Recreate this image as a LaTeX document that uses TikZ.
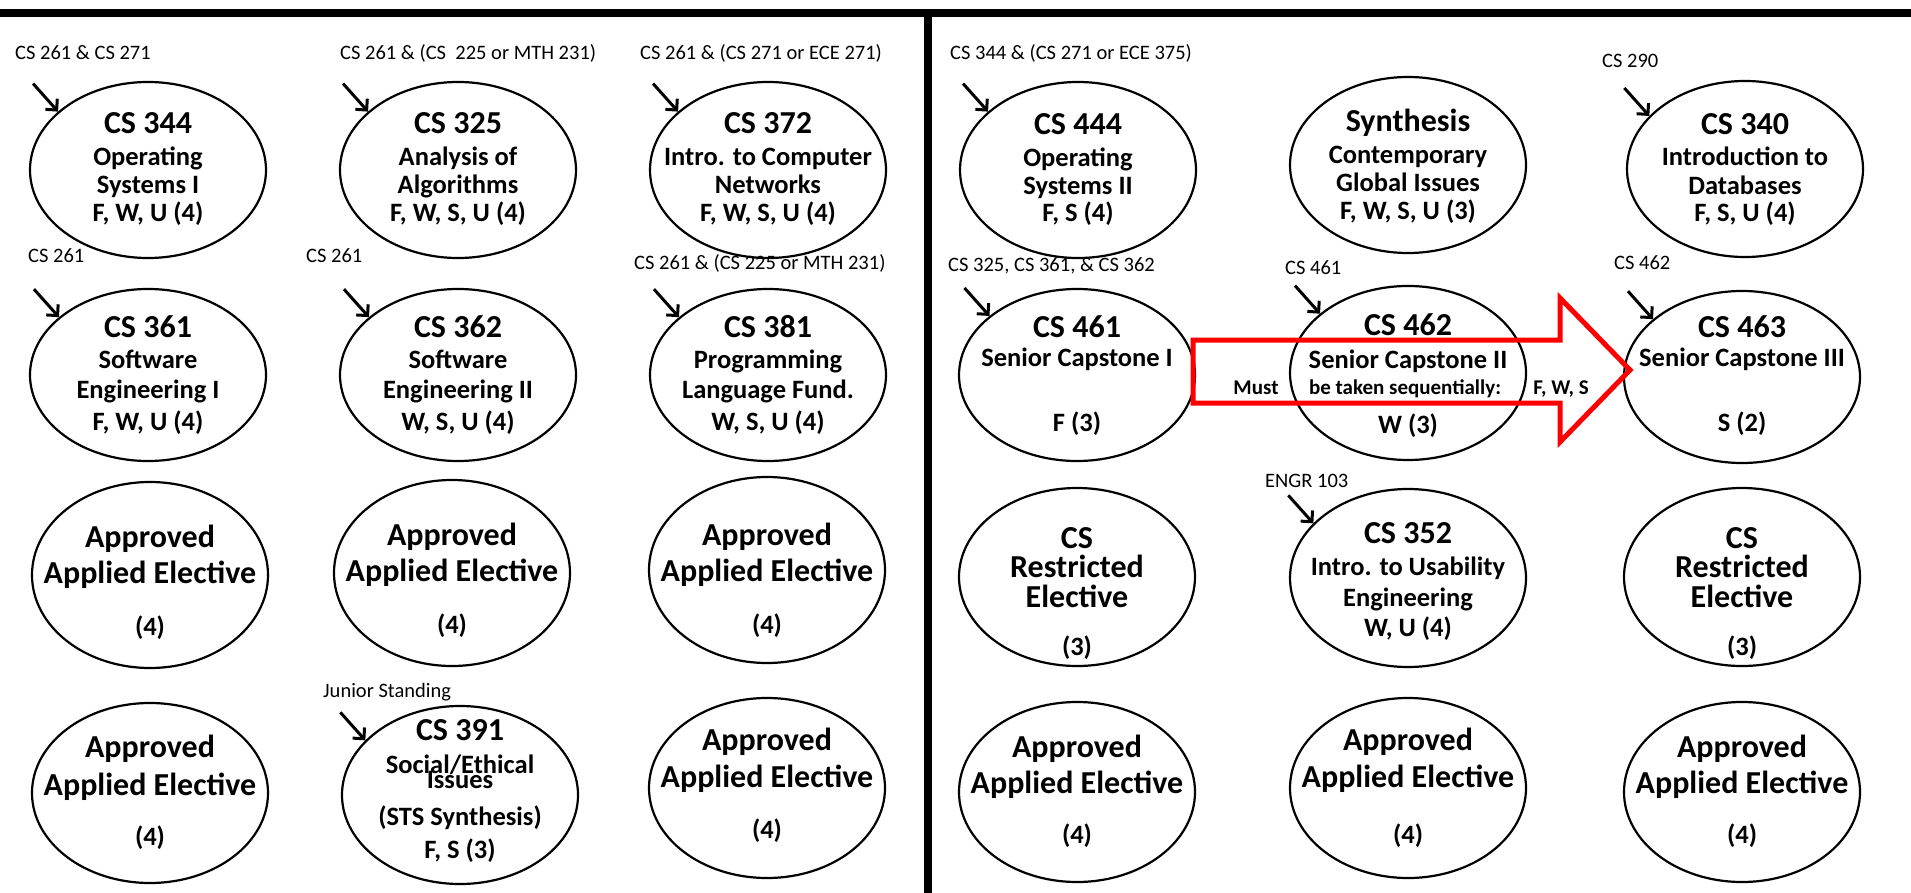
\documentclass[tikz,border=0pt]{standalone}
\usepackage{fontspec}
\setmainfont{Carlito}
\usetikzlibrary{shapes.geometric,arrows.meta,calc}
\tikzset{
  ell/.style={draw, ellipse, line width=2.2pt, minimum width=236pt, inner sep=0pt},
  ttl/.style={font=\fontsize{32}{32}\selectfont\bfseries, anchor=base, inner sep=0pt},
  bdy/.style={font=\fontsize{26.5}{26.5}\selectfont\bfseries, anchor=base, inner sep=0pt},
  pre/.style={font=\fontsize{20.5}{20.5}\selectfont, anchor=base west, inner sep=0pt},
  prq/.style={line width=3pt, -{Straight Barb[length=8pt,width=16pt]}},
  seq/.style={font=\fontsize{21}{21}\selectfont\bfseries, anchor=base, inner sep=0pt},
  redarrow/.style={draw=red, line width=5pt, line join=miter},
  bar/.style={fill=black}
}
\begin{document}
\begin{tikzpicture}[x=1pt,y=-1pt]
\useasboundingbox (0,0) rectangle (1911,893);
\fill[white] (0,0) rectangle (1911,893);
% frame bars
\path[bar] (0,9) rectangle (1911,17);
\path[bar] (924,17) rectangle (932,893);

% ---------------- Row 1 ----------------
\node[ell, minimum height=176pt] (c344) at (148,170) {};
\node[ttl] (c344t) at (148,134) {CS 344};
\node[bdy] (c344a) at (148,166) {Operating};
\node[bdy] (c344b) at (148,194) {Systems I};
\node[bdy] (c344c) at (148,222) {F, W, U (4)};
\node[pre] (p344) at (15,60) {CS 261 \& CS 271};

\node[ell, minimum height=176pt] (c325) at (458,170) {};
\node[ttl] (c325t) at (458,134) {CS 325};
\node[bdy] (c325a) at (458,166) {Analysis of};
\node[bdy] (c325b) at (458,194) {Algorithms};
\node[bdy] (c325c) at (458,222) {F, W, S, U (4)};
\node[pre] (p325) at (340,60) {CS 261 \& (CS\ \ 225 or MTH 231)};

\node[ell, minimum height=176pt] (c372) at (768,170) {};
\node[ttl] (c372t) at (768,134) {CS 372};
\node[bdy] (c372a) at (768,166) {Intro. to Computer};
\node[bdy] (c372b) at (768,194) {Networks};
\node[bdy] (c372c) at (768,222) {F, W, S, U (4)};
\node[pre] (p372) at (640,60) {CS 261 \& (CS 271 or ECE 271)};

\node[ell, minimum height=176pt] (c444) at (1078,170) {};
\node[ttl] (c444t) at (1078,135) {CS 444};
\node[bdy] (c444a) at (1078,167) {Operating};
\node[bdy] (c444b) at (1078,195) {Systems II};
\node[bdy] (c444c) at (1078,222) {F, S (4)};
\node[pre] (p444) at (950,60) {CS 344 \& (CS 271 or ECE 375)};

\node[ell, minimum height=176pt] (syn) at (1408,165) {};
\node[ttl] (synt) at (1408,132) {Synthesis};
\node[bdy] (syna) at (1408,164) {Contemporary};
\node[bdy] (synb) at (1408,192) {Global Issues};
\node[bdy] (sync) at (1408,220) {F, W, S, U (3)};

\node[ell, minimum height=176pt] (c340) at (1745,169) {};
\node[ttl] (c340t) at (1745,135) {CS 340};
\node[bdy] (c340a) at (1745,166) {Introduction to};
\node[bdy] (c340b) at (1745,195) {Databases};
\node[bdy] (c340c) at (1745,222) {F, S, U (4)};
\node[pre] (p340) at (1602,68) {CS 290};

% ---------------- Row 2 ----------------
\node[ell, minimum height=172pt] (c361) at (148,375) {};
\node[ttl] (c361t) at (148,337) {CS 361};
\node[bdy] (c361a) at (148,368) {Software};
\node[bdy] (c361b) at (148,398) {Engineering I};
\node[bdy] (c361c) at (148,430) {F, W, U (4)};
\node[pre] (p361) at (28,263) {CS 261};

\node[ell, minimum height=172pt] (c362) at (458,375) {};
\node[ttl] (c362t) at (458,337) {CS 362};
\node[bdy] (c362a) at (458,368) {Software};
\node[bdy] (c362b) at (458,398) {Engineering II};
\node[bdy] (c362c) at (458,430) {W, S, U (4)};
\node[pre] (p362) at (306,263) {CS 261};

\node[ell, minimum height=172pt] (c381) at (768,375) {};
\node[ttl] (c381t) at (768,337) {CS 381};
\node[bdy] (c381a) at (768,368) {Programming};
\node[bdy] (c381b) at (768,398) {Language Fund.};
\node[bdy] (c381c) at (768,430) {W, S, U (4)};
\node[pre] (p381) at (634,270) {CS 261 \& (CS 225 or MTH 231)};

\node[ell, minimum height=172pt] (c461) at (1077,375) {};
\node[ttl] (c461t) at (1077,337) {CS 461};
\node[bdy] (c461a) at (1077,366) {Senior Capstone I};
\node[bdy] (c461c) at (1077,431) {F (3)};
\node[pre] (p461) at (948,272) {CS 325, CS 361, \& CS 362};

\node[ell, minimum height=174pt] (c462) at (1408,373) {};
\node[ttl] (c462t) at (1408,335) {CS 462};
\node[bdy] (c462a) at (1408,368) {Senior Capstone II};
\node[bdy] (c462c) at (1408,433) {W (3)};
\node[pre] (p462) at (1285,275) {CS 461};

\node[ell, minimum height=172pt] (c463) at (1742,377) {};
\node[ttl] (c463t) at (1742,337) {CS 463};
\node[bdy] (c463a) at (1742,366) {Senior Capstone III};
\node[bdy] (c463c) at (1742,431) {S (2)};
\node[pre] (p463) at (1614,270) {CS 462};

% ---------------- Row 3 ----------------
\node[ell, minimum height=186pt] (a31) at (150,575) {};
\node[ttl] (a31t) at (150,547) {Approved};
\node[ttl] (a31a) at (150,583) {Applied Elective};
\node[bdy] (a31c) at (150,635) {(4)};

\node[ell, minimum height=186pt] (a32) at (452,573) {};
\node[ttl] (a32t) at (452,545) {Approved};
\node[ttl] (a32a) at (452,581) {Applied Elective};
\node[bdy] (a32c) at (452,633) {(4)};

\node[ell, minimum height=186pt] (a33) at (767,570) {};
\node[ttl] (a33t) at (767,545) {Approved};
\node[ttl] (a33a) at (767,581) {Applied Elective};
\node[bdy] (a33c) at (767,633) {(4)};

\node[ell, minimum height=178pt] (r1) at (1077,577) {};
\node[ttl] (r1t) at (1077,548) {CS};
\node[ttl] (r1a) at (1077,577) {Restricted};
\node[ttl] (r1b) at (1077,607) {Elective};
\node[bdy] (r1c) at (1077,655) {(3)};

\node[ell, minimum height=178pt] (c352) at (1408,578) {};
\node[ttl] (c352t) at (1408,543) {CS 352};
\node[bdy] (c352a) at (1408,575) {Intro. to Usability};
\node[bdy] (c352b) at (1408,606) {Engineering};
\node[bdy] (c352c) at (1408,636) {W, U (4)};
\node[pre] (p352) at (1265,487) {ENGR 103};

\node[ell, minimum height=178pt] (r2) at (1742,577) {};
\node[ttl] (r2t) at (1742,548) {CS};
\node[ttl] (r2a) at (1742,577) {Restricted};
\node[ttl] (r2b) at (1742,607) {Elective};
\node[bdy] (r2c) at (1742,655) {(3)};

% ---------------- Row 4 ----------------
\node[ell, minimum height=180pt] (a41) at (150,793) {};
\node[ttl] (a41t) at (150,757) {Approved};
\node[ttl] (a41a) at (150,795) {Applied Elective};
\node[bdy] (a41c) at (150,845) {(4)};

\node[ell, minimum height=178pt] (c391) at (460,795) {};
\node[ttl] (c391t) at (460,740) {CS 391};
\node[bdy] (c391a) at (460,773) {Social/Ethical};
\node[bdy] (c391b) at (460,788) {Issues};
\node[bdy] (c391c) at (460,825) {(STS Synthesis)};
\node[bdy] (c391d) at (460,858) {F, S (3)};
\node[pre] (p391) at (323,697) {Junior Standing};

\node[ell, minimum height=180pt] (a43) at (767,788) {};
\node[ttl] (a43t) at (767,750) {Approved};
\node[ttl] (a43a) at (767,787) {Applied Elective};
\node[bdy] (a43c) at (767,838) {(4)};

\node[ell, minimum height=180pt] (a44) at (1077,792) {};
\node[ttl] (a44t) at (1077,757) {Approved};
\node[ttl] (a44a) at (1077,793) {Applied Elective};
\node[bdy] (a44c) at (1077,843) {(4)};

\node[ell, minimum height=180pt] (a45) at (1408,788) {};
\node[ttl] (a45t) at (1408,750) {Approved};
\node[ttl] (a45a) at (1408,787) {Applied Elective};
\node[bdy] (a45c) at (1408,843) {(4)};

\node[ell, minimum height=180pt] (a46) at (1742,792) {};
\node[ttl] (a46t) at (1742,757) {Approved};
\node[ttl] (a46a) at (1742,793) {Applied Elective};
\node[bdy] (a46c) at (1742,843) {(4)};

% ---------------- prerequisite arrows ----------------
\foreach \n/\a in {c344/147,c325/147,c372/147,c444/147,c340/151,c361/147,c362/147,c381/147,c461/146,c462/146,c463/147,c352/150,c391/150}{
  \coordinate (s\n) at ($(\n.\a)+(-25,-28)$);
  \draw[prq] (s\n) -- (\n.\a);
}

% ---------------- sequence arrow ----------------
\coordinate (ra) at (1193,340);
\coordinate (rb) at (1560,340);
\coordinate (rc) at (1560,298);
\coordinate (rtip) at (1630,370);
\coordinate (rd) at (1560,442);
\coordinate (re) at (1560,403);
\coordinate (rf) at (1193,403);
\draw[redarrow] (ra) -- (rb) -- (rc) -- (rtip) -- (rd) -- (re) -- (rf) -- cycle;
\node[seq] (mst) at (1256,394) {Must};
\node[seq] (btk) at (1405,394) {be taken sequentially:};
\node[seq] (fws) at (1561,394) {F, W, S};
\end{tikzpicture}
\end{document}
